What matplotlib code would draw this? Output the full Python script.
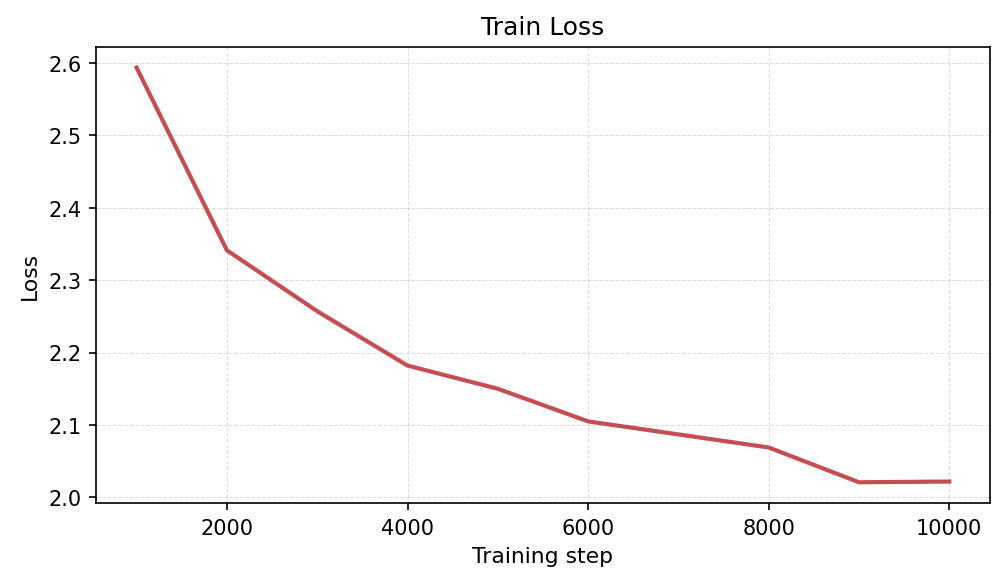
import matplotlib
matplotlib.use("Agg")
import matplotlib.pyplot as plt

steps = [1000, 2000, 3000, 4000, 5000, 6000, 7000, 8000, 9000, 10000]
loss = [2.593, 2.341, 2.257, 2.182, 2.150, 2.105, 2.087, 2.069, 2.021, 2.022]

fig, ax = plt.subplots(figsize=(6.7, 3.893), dpi=150)
ax.plot(steps, loss, color="#c44e52", linewidth=2.0)
ax.set_title("Train Loss", fontsize=12)
ax.set_xlabel("Training step", fontsize=10.5)
ax.set_ylabel("Loss", fontsize=10.5)
ax.grid(True, linestyle="--", linewidth=0.5, alpha=0.4)
fig.subplots_adjust(left=0.0955, right=0.985, top=0.918, bottom=0.137)
fig.savefig("out.png", dpi=150)
